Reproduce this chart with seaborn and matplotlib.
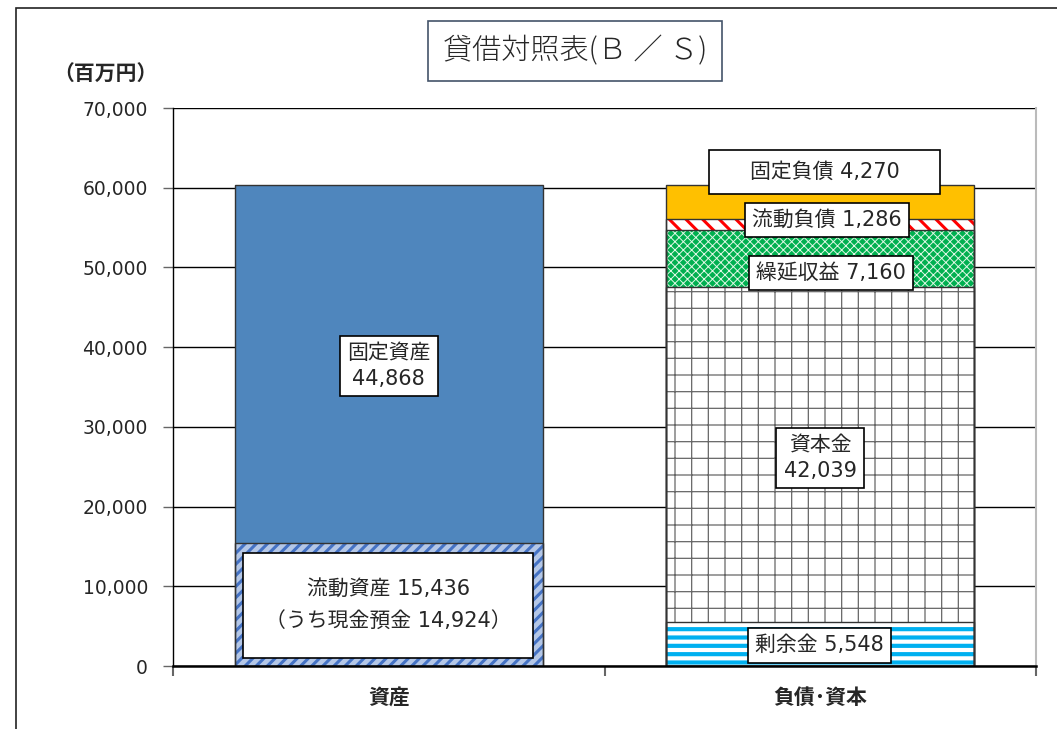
import matplotlib
matplotlib.use("Agg")
import matplotlib.pyplot as plt
import matplotlib.patches as mpatches
from matplotlib.ticker import FuncFormatter, FixedLocator
import seaborn as sns
import pandas as pd
import numpy as np

# data
categories = ['資産', '負債･資本']
asset_items = ['流動資産', '固定資産']
asset_values = [15436, 44868]
liab_items = ['剰余金', '資本金', '繰延収益', '流動負債', '固定負債']
liab_values = [5548, 42039, 7160, 1286, 4270]
cash_value = 14924

sns.set_style('white')
plt.rcParams['font.family'] = ['DejaVu Sans', 'Noto Sans CJK JP']
plt.rcParams['hatch.linewidth'] = 1.5

# style per segment: facecolor, hatch, hatch colour, hatch linewidth
styles = {
    '流動資産': ('#b4c7e7', '///', '#4472c4', 2.2),
    '固定資産': ('#4f86bd', None, '#4f86bd', 1.0),
    '剰余金': ('white', '--', '#00b0f0', 3.0),
    '資本金': ('white', '+', '#666666', 0.9),
    '繰延収益': ('#00b050', 'xxxx', '#e0f8e6', 0.7),
    '流動負債': ('white', '\\\\', '#ff0000', 2.2),
    '固定負債': ('#ffc000', None, '#ffc000', 1.0),
}

fig = plt.figure(figsize=(10.57, 7.29), dpi=100)
ax = fig.add_axes([173 / 1057, 63 / 729, 863 / 1057, 558 / 729])

bar_w = 0.714


def draw_stack(cat, items, values):
    cum = np.cumsum(values)
    # draw top-down so lower segments cover the taller ones
    for name, top in reversed(list(zip(items, cum))):
        fc, hatch, hc, hlw = styles[name]
        df = pd.DataFrame({'cat': [cat], 'val': [top]})
        n0 = len(ax.patches)
        with plt.rc_context({'hatch.linewidth': hlw}):
            sns.barplot(data=df, x='cat', y='val', order=categories, color=fc,
                        width=bar_w, hatch=hatch, edgecolor=hc, linewidth=0,
                        saturation=1, errorbar=None, ax=ax)
        for p in ax.patches[n0:]:
            if hasattr(p, 'set_hatch_linewidth'):
                p.set_hatch_linewidth(hlw)
    # outlines
    for top in cum:
        df = pd.DataFrame({'cat': [cat], 'val': [top]})
        sns.barplot(data=df, x='cat', y='val', order=categories, fill=False,
                    width=bar_w, edgecolor='#333333', linewidth=1.0,
                    errorbar=None, ax=ax)


draw_stack(categories[0], asset_items, asset_values)
draw_stack(categories[1], liab_items, liab_values)

ax.set_xlim(-0.5, 1.5)
ax.set_ylim(0, 70000)
ax.yaxis.set_major_locator(FixedLocator(np.arange(0, 70001, 10000)))
ax.yaxis.set_major_formatter(FuncFormatter(lambda v, p: f'{int(v):,}'))
ax.grid(axis='y', color='black', linewidth=1.0)
ax.set_axisbelow(True)
ax.set_xlabel('')
ax.set_ylabel('')

ax.spines['top'].set_visible(False)
ax.spines['right'].set_color('#bbbbbb')
ax.spines['right'].set_linewidth(1.5)
ax.spines['left'].set_color('black')
ax.spines['bottom'].set_color('black')
ax.spines['bottom'].set_linewidth(1.8)
ax.spines['left'].set_linewidth(1.0)

ax.tick_params(axis='y', which='major', left=True, length=7, width=1,
               color='#666666', labelsize=13.5, pad=11)
ax.tick_params(axis='x', which='major', length=0, labelsize=15, pad=16)
ax.set_xticks([-0.5, 0.5, 1.5], minor=True)
ax.tick_params(axis='x', which='minor', bottom=True, length=7, width=1.5,
               color='#666666')
for lbl in ax.get_xticklabels():
    lbl.set_fontweight('bold')

lfs = 15
box = dict(boxstyle='square,pad=0.35', facecolor='white', edgecolor='black',
           linewidth=1.2)
ax.text(0, 37640, f'{asset_items[1]}\n{asset_values[1]:,}', ha='center',
        va='center', fontsize=lfs, bbox=box, linespacing=1.35)
ax.add_patch(mpatches.Rectangle((-0.338, 1004), 0.672, 13170, facecolor='white',
                                edgecolor='black', linewidth=1.2, zorder=5))
ax.text(0, 7650, f'{asset_items[0]} {asset_values[0]:,}\n（うち現金預金 {cash_value:,}）',
        ha='center', va='center', fontsize=lfs, linespacing=1.75, zorder=6)
ax.add_patch(mpatches.Rectangle((0.743, 59220), 0.535, 5520, facecolor='white',
                                edgecolor='black', linewidth=1.2, zorder=5))
ax.text(1.01, 61980, f'{liab_items[4]} {liab_values[4]:,}', ha='center',
        va='center', fontsize=lfs, zorder=6)
ax.text(1.016, 55960, f'{liab_items[3]} {liab_values[3]:,}', ha='center',
        va='center', fontsize=lfs, bbox=box)
ax.text(1.025, 49310, f'{liab_items[2]} {liab_values[2]:,}', ha='center',
        va='center', fontsize=lfs, bbox=box)
ax.text(1.0, 26100, f'{liab_items[1]}\n{liab_values[1]:,}', ha='center',
        va='center', fontsize=lfs, bbox=box, linespacing=1.35)
ax.text(0.998, 2600, f'{liab_items[0]} {liab_values[0]:,}', ha='center',
        va='center', fontsize=lfs, bbox=box)

# title box
fig.text(575 / 1057, 1 - 51 / 729, '貸借対照表(Ｂ ／ Ｓ)', ha='center', va='center',
         fontsize=21, family=['Noto Sans CJK JP'], fontweight='light',
         bbox=dict(boxstyle='square,pad=0.5', facecolor='white',
                   edgecolor='#44546a', linewidth=1.2))
fig.text(105 / 1057, 1 - 75 / 729, '（百万円）', ha='center', va='center',
         fontsize=15, fontweight='bold')

# outer chart frame
fig.add_artist(mpatches.Rectangle((16 / 1057, -0.01), 1.1, 1 - 8 / 729 + 0.01,
                                  transform=fig.transFigure, fill=False,
                                  edgecolor='#222222', linewidth=1.2))

fig.savefig('out.png', dpi=100)
